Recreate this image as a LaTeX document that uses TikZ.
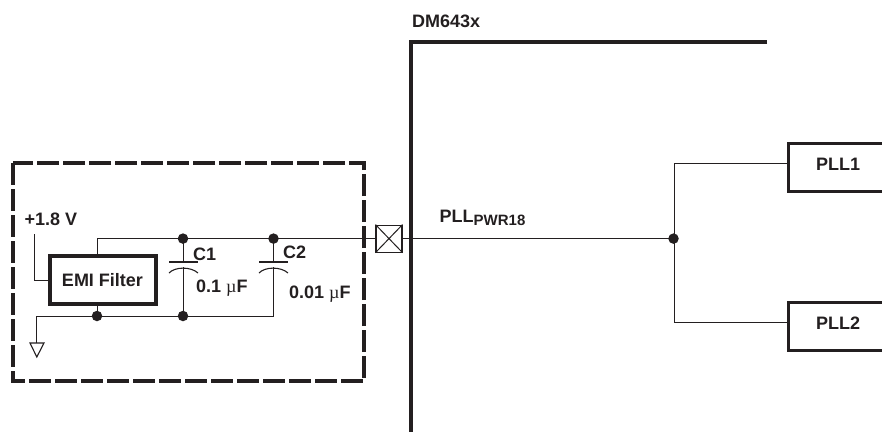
\documentclass[tikz,border=0pt]{standalone}
\usepackage{fontspec}
\setmainfont{Liberation Sans}
\newfontfamily\mufont{Liberation Serif}
\definecolor{ink}{HTML}{231F20}
\tikzset{
  x=1pt,y=-1pt,
  wire/.style={draw=ink,line width=1pt},
  heavy/.style={draw=ink,line width=3.4pt,line cap=square,line join=miter},
  dashbox/.style={draw=ink,line width=3.4pt,dash pattern=on 22pt off 4pt,line join=miter},
  block/.style={draw=ink,line width=3.2pt,rectangle,inner sep=0pt,fill=white},
  lbl/.style={font=\fontsize{18}{20}\selectfont\bfseries,text=ink,inner sep=0pt},
  junct/.style={circle,fill=ink,draw=none,minimum size=10.5pt,inner sep=0pt},
  pad/.style={draw=ink,line width=1.1pt,rectangle,minimum width=26pt,minimum height=27pt,inner sep=0pt,fill=white},
  plate/.style={draw=ink,line width=1.1pt},
}
\newcommand{\um}{{\mufont\mdseries µ}F}
\begin{document}
\begin{tikzpicture}
\useasboundingbox (0,0) rectangle (882,432);
\clip (0,0) rectangle (882,432);
% device outline
\coordinate (devTR) at (767,42);
\coordinate (devBL) at (411,432);
\draw[heavy] (devTR) -- (411,42) -- (devBL);
% dashed box
\draw[dashbox] (13,163) rectangle (364,381);
% junctions & coordinates
\node[junct] (j1) at (183,238.6) {};
\node[junct] (j2) at (273.5,238.6) {};
\node[junct] (j3) at (673.5,238.6) {};
\node[junct] (j4) at (97,316) {};
\node[junct] (j5) at (183,316) {};
\coordinate (c2b) at (273.5,316.6);
\coordinate (gnd) at (36.5,316.6);
\coordinate (gt) at (36.5,343);
\coordinate (v18) at (34.7,234);
\coordinate (ct1) at (183,262);
\coordinate (cb1) at (183,267);
\coordinate (ct2) at (273.5,262);
\coordinate (cb2) at (273.5,267);
\coordinate (pllup) at (674,163.6);
\coordinate (plldn) at (674,322.6);
% blocks
\node[block,minimum width=106pt,minimum height=48pt] (emi) at (103,280) {};
\node[lbl] (emit) at (102.5,280) {EMI Filter};
\node[pad] (padx) at (389,238.6) {};
\draw[line width=1pt,draw=ink] (padx.north west) -- (padx.south east) (padx.north east) -- (padx.south west);
\node[block,minimum width=120pt,minimum height=48pt,anchor=north west] (pll1) at (787,142) {};
\node[block,minimum width=120pt,minimum height=48pt,anchor=north west] (pll2) at (787,301) {};
\node[lbl] (pll1t) at (838,164) {PLL1};
\node[lbl] (pll2t) at (838,323) {PLL2};
% wires
\draw[wire] (emi.north -| j4) |- (j1.center) -- (j2.center) -- (padx.west);
\draw[wire] (padx.east) -- (j3.center);
\draw[wire] (v18) |- (emi.west);
\draw[wire] (emi.south -| j4) -- (j4.center);
\draw[wire] (gt) -- (gnd) -- (c2b) -- (cb2);
\draw[wire] (j1.center) -- (ct1);
\draw[wire] (cb1) -- (j5.center);
\draw[wire] (j2.center) -- (ct2);
\draw[wire] (pll1.west |- pllup) -- (pllup) -- (plldn) -- (pll2.west |- plldn);
% capacitor plates
\draw[plate] (169,262) -- (198,262);
\draw[plate] (169,273) .. controls (175,266.5) and (191,266.5) .. (198,273);
\draw[plate] (259,262) -- (288,262);
\draw[plate] (259,273) .. controls (265,266.5) and (281,266.5) .. (288,273);
% ground
\draw[plate] (gt) -- (30,343) -- (36.8,357) -- (44,343) -- cycle;
% labels
\node[lbl,anchor=west] (dm) at (412,21) {DM643x};
\node[lbl,anchor=west] (v) at (24.5,219) {+1.8 V};
\node[lbl,anchor=west] (c1) at (193,254) {C1};
\node[lbl,anchor=west] (c2) at (283,252) {C2};
\node[lbl,anchor=west] (cv1) at (196,288) {0.1 \um};
\node[lbl,anchor=west] (cv2) at (289,294) {0.01 \um};
\node[lbl,anchor=base west] (pwr) at (439.5,222) {PLL\raisebox{-3.5pt}{\fontsize{15}{15}\selectfont PWR18}};
\end{tikzpicture}
\end{document}
